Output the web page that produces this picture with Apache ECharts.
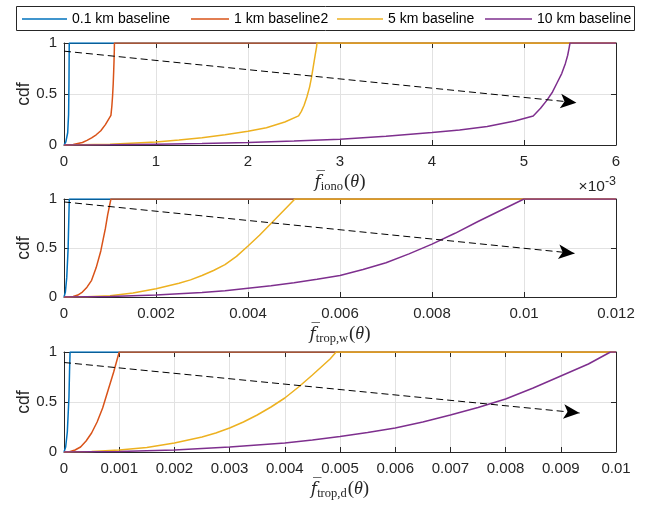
<!DOCTYPE html>
<html>
<head>
<meta charset="utf-8">
<script src="https://cdn.jsdelivr.net/npm/echarts@6/dist/echarts.min.js"></script>
<style>html,body{margin:0;padding:0;background:#fff}#c{width:645px;height:506px}</style>
</head>
<body>
<div id="c"></div>
<script>
// ---------- data ----------
const seriesNames = ['0.1 km baseline', '1 km baseline2', '5 km baseline', '10 km baseline'];
const seriesColors = ['#0072BD', '#D95319', '#EDB120', '#7E2F8E'];
const yTicks = [0, 0.5, 1];

// Panel 1: f_iono (x in units of 1e-3)
const ionoTicks = [0, 1, 2, 3, 4, 5, 6];
const ionoBlue = [[0,0],[0.02,0.03],[0.04,0.12],[0.05,0.3],[0.054,0.6],[0.057,1],[6,1]];
const ionoRed = [[0,0],[0.1,0.005],[0.2,0.025],[0.25,0.045],[0.3,0.07],[0.35,0.1],[0.4,0.14],[0.45,0.2],[0.51,0.29],[0.52,0.38],[0.528,0.48],[0.535,0.6],[0.54,0.72],[0.544,0.83],[0.547,0.93],[0.548,1],[6,1]];
const ionoYellow = [[0,0],[0.5,0.008],[1,0.03],[1.25,0.048],[1.5,0.072],[1.75,0.1],[2,0.135],[2.2,0.17],[2.4,0.225],[2.55,0.285],[2.58,0.33],[2.61,0.39],[2.64,0.47],[2.67,0.57],[2.69,0.66],[2.71,0.77],[2.73,0.88],[2.745,0.96],[2.75,1],[6,1]];
const ionoPurple = [[0,0],[0.5,0.003],[1,0.008],[1.5,0.015],[2,0.025],[2.5,0.038],[3,0.057],[3.5,0.085],[4,0.122],[4.3,0.148],[4.6,0.182],[4.9,0.235],[5.1,0.285],[5.18,0.36],[5.25,0.44],[5.31,0.52],[5.36,0.61],[5.41,0.7],[5.45,0.8],[5.475,0.88],[5.49,0.95],[5.5,1],[6,1]];
const ionoArrow = [[0,0.92],[5.57,0.415]];

// Panel 2: f_trop,w
const tropWTicks = [0, 0.002, 0.004, 0.006, 0.008, 0.01, 0.012];
const tropWBlue = [[0,0],[0.00003,0.05],[0.00006,0.2],[0.00009,0.5],[0.000105,0.8],[0.000115,1],[0.012,1]];
const tropWRed = [[0,0],[0.0001,0.001],[0.0002,0.005],[0.0003,0.02],[0.0004,0.05],[0.0005,0.1],[0.0006,0.17],[0.0007,0.3],[0.0008,0.47],[0.0009,0.7],[0.00095,0.84],[0.00102,1],[0.012,1]];
const tropWYellow = [[0,0],[0.0005,0.002],[0.001,0.012],[0.0015,0.04],[0.002,0.085],[0.0025,0.14],[0.00275,0.175],[0.003,0.22],[0.00325,0.27],[0.0035,0.33],[0.00375,0.415],[0.004,0.52],[0.00425,0.63],[0.0045,0.75],[0.00475,0.87],[0.00502,1],[0.012,1]];
const tropWPurple = [[0,0],[0.001,0.004],[0.002,0.02],[0.003,0.045],[0.0035,0.065],[0.004,0.09],[0.0045,0.115],[0.005,0.145],[0.0055,0.18],[0.006,0.22],[0.0065,0.28],[0.007,0.35],[0.0075,0.44],[0.008,0.54],[0.0085,0.65],[0.009,0.77],[0.0095,0.885],[0.01,1],[0.012,1]];
const tropWArrow = [[0,0.97],[0.0111,0.445]];

// Panel 3: f_trop,d
const tropDTicks = [0, 0.001, 0.002, 0.003, 0.004, 0.005, 0.006, 0.007, 0.008, 0.009, 0.01];
const tropDBlue = [[0,0],[0.00003,0.05],[0.00006,0.2],[0.00009,0.55],[0.0001,0.8],[0.00011,1],[0.01,1]];
const tropDRed = [[0,0],[0.0001,0.003],[0.0002,0.02],[0.0003,0.05],[0.0004,0.11],[0.0005,0.19],[0.0006,0.3],[0.0007,0.44],[0.0008,0.62],[0.0009,0.8],[0.001,1],[0.01,1]];
const tropDYellow = [[0,0],[0.0005,0.005],[0.001,0.02],[0.0015,0.045],[0.002,0.09],[0.0025,0.15],[0.00275,0.19],[0.003,0.24],[0.00325,0.3],[0.0035,0.37],[0.00375,0.45],[0.004,0.54],[0.00425,0.65],[0.0045,0.77],[0.00482,0.93],[0.00493,1],[0.01,1]];
const tropDPurple = [[0,0],[0.001,0.005],[0.002,0.02],[0.003,0.05],[0.004,0.09],[0.0045,0.12],[0.005,0.155],[0.0055,0.195],[0.006,0.24],[0.0065,0.3],[0.007,0.37],[0.0075,0.445],[0.008,0.53],[0.0085,0.64],[0.009,0.76],[0.0095,0.88],[0.0099,1],[0.01,1]];
const tropDArrow = [[0,0.895],[0.00934,0.39]];

const xNames = ['iono', 'trop,w', 'trop,d'];
const yName = 'cdf';
const exponentLabel = ['×10', '-3'];

// ---------- layout / styles ----------
const FONT = 'Liberation Sans, Arial, Helvetica, sans-serif';
const AX = '#262626';
const GRIDC = '#e2e2e2';
const panels = [
  {top: 43, height: 102, ticks: ionoTicks, sets: [ionoBlue, ionoRed, ionoYellow, ionoPurple], arrow: ionoArrow, name: xNames[0]},
  {top: 199, height: 98, ticks: tropWTicks, sets: [tropWBlue, tropWRed, tropWYellow, tropWPurple], arrow: tropWArrow, name: xNames[1]},
  {top: 352, height: 100, ticks: tropDTicks, sets: [tropDBlue, tropDRed, tropDYellow, tropDPurple], arrow: tropDArrow, name: xNames[2]}
];

const nameRich = {
  f: {fontFamily: 'DejaVu Serif', fontStyle: 'italic', fontSize: 17, color: AX},
  s: {fontFamily: 'Liberation Serif', fontSize: 12.5, color: AX, padding: [8, 1, 0, 0]},
  p: {fontFamily: 'Liberation Serif', fontSize: 19, color: AX},
  t: {fontFamily: 'Liberation Serif', fontStyle: 'italic', fontSize: 18, color: AX}
};

const grid = [], xAxis = [], yAxis = [], series = [];
panels.forEach((p, i) => {
  grid.push({left: 64, width: 552, top: p.top, height: p.height});
  const tks = p.ticks;
  const interval = +(tks[1] - tks[0]).toFixed(6);
  const fmt = v => String(+v.toFixed(4));
  const baseX = {
    gridIndex: i, type: 'value', min: tks[0], max: tks[tks.length - 1], interval: interval,
    axisLine: {show: true, onZero: false, lineStyle: {color: AX, width: 1}},
    axisTick: {show: true, inside: true, length: 5, lineStyle: {color: AX}}
  };
  xAxis.push(Object.assign({}, baseX, {
    position: 'bottom',
    axisLabel: {margin: 9, color: AX, fontSize: 15, fontFamily: FONT, formatter: fmt},
    splitLine: {show: true, lineStyle: {color: GRIDC, width: 1}},
    name: '{f|f\u0305}{s|' + p.name + '}{p|(}{t|θ}{p|)}',
    nameLocation: 'middle', nameGap: 27, nameMoveOverlap: false,
    nameTextStyle: {rich: nameRich}
  }));
  xAxis.push(Object.assign({}, baseX, {
    position: 'top', axisLabel: {show: false}, splitLine: {show: false}
  }));
  const baseY = {
    gridIndex: i, type: 'value', min: yTicks[0], max: yTicks[2], interval: yTicks[1] - yTicks[0],
    axisLine: {show: true, onZero: false, lineStyle: {color: AX, width: 1}},
    axisTick: {show: true, inside: true, length: 5, lineStyle: {color: AX}}
  };
  yAxis.push(Object.assign({}, baseY, {
    position: 'left',
    axisLabel: {margin: 7, color: AX, fontSize: 15, fontFamily: FONT},
    splitLine: {show: true, lineStyle: {color: GRIDC, width: 1}},
    name: yName, nameLocation: 'middle', nameGap: 31, nameRotate: 90, nameMoveOverlap: false,
    nameTextStyle: {color: AX, fontSize: 17.5, fontFamily: FONT}
  }));
  yAxis.push(Object.assign({}, baseY, {
    position: 'right', axisLabel: {show: false}, splitLine: {show: false}
  }));
  p.sets.forEach((d, k) => {
    const s = {
      name: seriesNames[k], type: 'line', xAxisIndex: 2 * i, yAxisIndex: 2 * i,
      data: d, showSymbol: false, symbol: 'none', smooth: false, animation: false,
      color: seriesColors[k],
      lineStyle: {color: seriesColors[k], width: 1.5},
      z: 3 + k
    };
    if (k === 3) {
      s.markLine = {
        silent: true, animation: false, symbol: ['none', 'arrow'], symbolSize: [11, 16],
        label: {show: false},
        lineStyle: {color: '#000', type: [7, 4], width: 1},
        data: [[{coord: p.arrow[0]}, {coord: p.arrow[1]}]],
        z: 10
      };
    }
    series.push(s);
  });
});

// individual legends to match spacing
const legendLefts = [22, 191, 337, 485];
const legendWidths = [45, 38, 46, 47];
const legend = seriesNames.map((n, k) => ({
  data: [{name: n, icon: 'rect'}],
  left: legendLefts[k], top: 12, padding: 0,
  itemWidth: legendWidths[k], itemHeight: 1.5,
  textStyle: {fontSize: 14, fontFamily: FONT, color: '#000'},
  selectedMode: false, z: 5
}));

const chart = echarts.init(document.getElementById('c'), null, {renderer: 'canvas'});
chart.setOption({
  animation: false,
  backgroundColor: '#fff',
  grid, xAxis, yAxis, series, legend,
  graphic: [
    {type: 'rect', z: 1, shape: {x: 16.5, y: 6.5, width: 618, height: 24},
     style: {fill: '#fff', stroke: AX, lineWidth: 1}},
    {type: 'text', z: 5, x: 616, y: 187,
     style: {text: '{a|' + exponentLabel[0] + '}{b|' + exponentLabel[1] + '}',
       align: 'right', verticalAlign: 'middle', textAlign: 'right', textVerticalAlign: 'middle',
       rich: {a: {fontSize: 15.5, fontFamily: FONT, fill: AX, color: AX},
              b: {fontSize: 12.5, fontFamily: FONT, fill: AX, color: AX, padding: [0, 0, 10, 0]}}}}
  ]
});
</script>
</body>
</html>
